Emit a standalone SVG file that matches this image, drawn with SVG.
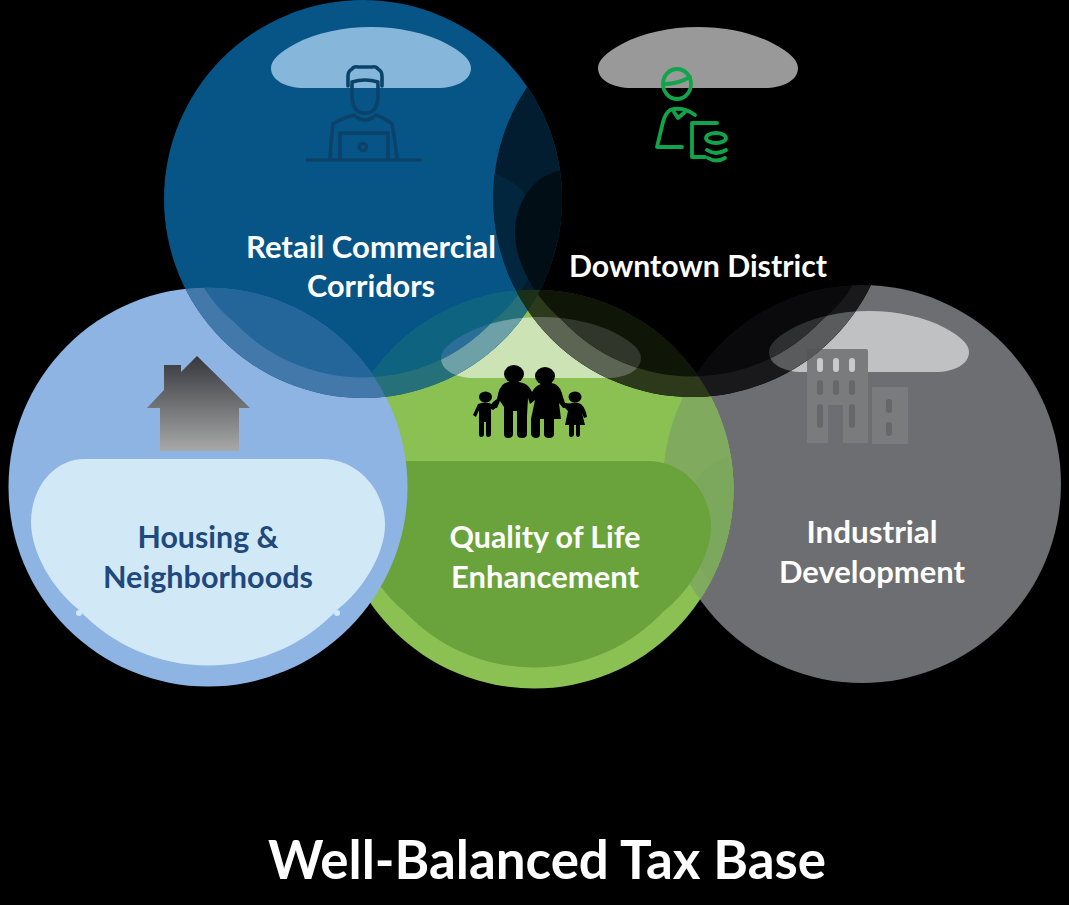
<svg xmlns="http://www.w3.org/2000/svg" xmlns:xlink="http://www.w3.org/1999/xlink" width="1069" height="905" viewBox="0 0 1069 905">
<style>
text{font-family:Lato,"Liberation Sans",sans-serif;font-weight:700;font-size:30px;fill:#fff;text-anchor:middle}
.dk{fill:#1f497d}
.ttl{font-size:53px}
.ln{fill:none;stroke:#0b4269;stroke-width:3.600;stroke-linecap:round;stroke-linejoin:round}
.gn{fill:none;stroke:#10a54a;stroke-width:3.800;stroke-linecap:round;stroke-linejoin:round}
</style>
<defs>
<path id="cap" d="M305 88C285 88 271 80 271 68C271 60 280 52 295 44C315 33 343 27 371 27C399 27 427 33 447 44C462 52 471 60 471 68C471 80 457 88 437 88Z"/>
<path id="bot" d="M85 459H322C358 459 385 490 385 525C385 552 365 588 338 609A178 178 0 0 1 78 609C52 588 31 552 31 522C31 490 52 459 85 459Z"/>
<circle id="cB" cx="363" cy="199" r="199"/>
<circle id="cK" cx="692" cy="198" r="199"/>
<circle id="cL" cx="208" cy="487" r="199.5"/>
<circle id="cG" cx="534" cy="489" r="199.5"/>
<circle id="cY" cx="862" cy="484" r="199"/>
<clipPath id="pB"><use xlink:href="#cB"/></clipPath>
<clipPath id="pK"><use xlink:href="#cK"/></clipPath>
<clipPath id="pL"><use xlink:href="#cL"/></clipPath>
<clipPath id="pG"><use xlink:href="#cG"/></clipPath>
<clipPath id="pY"><use xlink:href="#cY"/></clipPath>
<clipPath id="pBb"><use xlink:href="#bot" transform="translate(155 -288)"/></clipPath>
<clipPath id="pKb"><use xlink:href="#bot" transform="translate(484 -289)"/></clipPath>
<linearGradient id="hg" x1="0" y1="0" x2="0" y2="1"><stop offset="0" stop-color="#35373b"/><stop offset="1" stop-color="#a8a8a8"/></linearGradient>
<path id="bld" d="M809 349H866Q868 349 868 351V443H843V405H828V443H807V351Q807 349 809 349ZM872 387H908V444H872Z"/>
</defs>
<rect width="1069" height="905" fill="#000"/>

<g id="node-industrial">
<use xlink:href="#cY" fill="#6d6e71"/>
<use xlink:href="#cap" transform="translate(498 284)" fill="#c0c1c3"/>
<use xlink:href="#bld" fill="#7a7b7d"/>
<g fill="#c9cacc">
<rect x="817" y="358" width="6" height="14" rx="3"/><rect x="833" y="358" width="6" height="14" rx="3"/><rect x="849" y="358" width="6" height="14" rx="3"/>
</g>
<g fill="#676769">
<rect x="817" y="380" width="6" height="15" rx="3"/><rect x="833" y="380" width="6" height="15" rx="3"/><rect x="849" y="380" width="6" height="15" rx="3"/>
<rect x="817" y="404" width="6" height="24" rx="3"/><rect x="849" y="404" width="6" height="24" rx="3"/>
<rect x="886" y="399" width="6" height="14" rx="3"/><rect x="886" y="422" width="6" height="14" rx="3"/>
</g>
<text x="872" y="543" textLength="131" lengthAdjust="spacingAndGlyphs">Industrial</text>
<text x="872" y="583" textLength="186" lengthAdjust="spacingAndGlyphs">Development</text>
</g>

<g id="node-quality">
<use xlink:href="#cG" fill="#8bc153"/>
<use xlink:href="#cap" transform="translate(170 290)" fill="#cbe3b5"/>
<g clip-path="url(#pY)">
<use xlink:href="#cG" fill="#80aa5e"/>
<g clip-path="url(#pG)"><use xlink:href="#bot" transform="translate(654 -3)" fill="#7ca85d"/></g>
</g>
<use xlink:href="#bot" transform="translate(326 2)" fill="#6aa33c"/>
<g fill="#000">
<ellipse cx="514" cy="374" rx="10" ry="9"/><ellipse cx="545" cy="376" rx="10" ry="9"/>
<ellipse cx="485.500" cy="397" rx="6.500" ry="5.500"/><ellipse cx="575" cy="397" rx="6.500" ry="5.500"/>
<path d="M505 383Q514 380 523 383Q529 385 532 392Q535 386 541 384Q548 381 555 384Q561 387 563 397L565 403L575 404L575 407L563 408L559 403L561 419H554V434Q554 438 549 438Q544 438 544 434V419H540V434Q540 438 536 438Q532 438 531 434V419L531 419L535 400L530 404L528 398L527 416V434Q527 438 522 438Q517 438 517 434V411H513V434Q513 438 508 438Q504 438 504 434V407L500 401L497 408L491 405L493 402L497 399Q499 386 505 383Z"/>
<path d="M478 404Q485 401 492 404L497 407L493 410L491 409V434Q491 437 488 437Q486 437 486 434V422H484V434Q484 437 481 437Q479 437 479 434V410L476 417L473 415Z"/>
<path d="M569 404Q575 401 581 404Q586 409 587 417L584 418L582 413L585 425H580V434Q580 437 578 437Q576 437 576 434V425H574V434Q574 437 571 437Q569 437 569 434V425H565L568 411L565 408Z"/>
</g>
<text x="545" y="548" textLength="191" lengthAdjust="spacingAndGlyphs">Quality of Life</text>
<text x="545" y="588" textLength="188" lengthAdjust="spacingAndGlyphs">Enhancement</text>
</g>

<g id="node-housing">
<use xlink:href="#cL" fill="#8eb4e3"/>
<use xlink:href="#bot" fill="#d1e9f7"/>
<circle cx="79" cy="613" r="3" fill="#d1e9f7"/><circle cx="337" cy="613" r="3" fill="#d1e9f7"/>
<path d="M197 356L250 408H239V451H160V408H147L164 390V365H181V372Z" fill="url(#hg)"/>
<text class="dk" x="208" y="548" textLength="141" lengthAdjust="spacingAndGlyphs">Housing &amp;</text>
<text class="dk" x="208" y="588" textLength="210" lengthAdjust="spacingAndGlyphs">Neighborhoods</text>
</g>

<g id="node-downtown">
<use xlink:href="#cK" fill="#000"/>
<use xlink:href="#cap" transform="translate(327 0)" fill="#999"/>
<ellipse class="gn" cx="677" cy="84" rx="14" ry="15"/>
<path class="gn" d="M665 84Q678 84 690 77M670 110Q665 114 663 122L657 147H682M670 110Q683 106 695 115M674 112L678 118L685 112M717 123H692V157H705"/>
<ellipse class="gn" cx="716" cy="138" rx="10" ry="5"/>
<path class="gn" d="M707 150Q716 156 726 150M708 158Q716 163 725 158"/>
<g clip-path="url(#pK)">
<g clip-path="url(#pY)">
<use xlink:href="#cY" fill="#19191b"/>
<use xlink:href="#cap" transform="translate(498 284)" fill="#5a5b5d"/>
<use xlink:href="#bld" fill="#555658"/>
<g clip-path="url(#pKb)">
<use xlink:href="#cY" fill="#0a0a0c"/>
<use xlink:href="#cap" transform="translate(498 284)" fill="#2e2f31"/>
</g>
</g>
<g clip-path="url(#pG)">
<use xlink:href="#cG" fill="#2c3a1b"/>
<use xlink:href="#cap" transform="translate(170 290)" fill="#5c6554"/>
<g clip-path="url(#pKb)">
<use xlink:href="#cG" fill="#0f1608"/>
<use xlink:href="#cap" transform="translate(170 290)" fill="#30372a"/>
</g>
</g>
</g>
<text x="698" y="277" textLength="258" lengthAdjust="spacingAndGlyphs">Downtown District</text>
</g>

<g id="node-retail">
<use xlink:href="#cB" fill="#075587"/>
<use xlink:href="#cap" fill="#86b6d9"/>
<path class="ln" d="M348 86V76Q348 71 352 69Q354 66 358 67H372Q376 66 378 69Q382 71 382 76V86M352 82Q365 78 378 82M352 84V95Q352 113 365 113Q378 113 378 95V84M333 124Q340 119 354 115Q365 125 376 115Q386 119 392 124Q395 140 397 158M333 124Q331 140 330 158M340 158V133H388V158M307 160H420"/>
<circle class="ln" cx="363" cy="147" r="3.500"/>
<g clip-path="url(#pB)">
<g clip-path="url(#pG)">
<use xlink:href="#cG" fill="#26707a"/>
<use xlink:href="#cap" transform="translate(170 290)" fill="#6ea0a8"/>
<g clip-path="url(#pBb)">
<use xlink:href="#cG" fill="#0e6380"/>
<use xlink:href="#cap" transform="translate(170 290)" fill="#2b6f98"/>
</g>
</g>
<g clip-path="url(#pL)">
<use xlink:href="#cL" fill="#4279aa"/>
<g clip-path="url(#pBb)"><use xlink:href="#cL" fill="#24669a"/></g>
</g>
<g clip-path="url(#pK)">
<use xlink:href="#cK" fill="#021d30"/>
<g clip-path="url(#pBb)"><use xlink:href="#cK" fill="#03263f"/></g>
<g clip-path="url(#pKb)"><use xlink:href="#cK" fill="#020e16"/></g>
<g clip-path="url(#pG)"><use xlink:href="#cG" fill="#1a3018"/></g>
</g>
</g>
<text x="371" y="258" textLength="250" lengthAdjust="spacingAndGlyphs">Retail Commercial</text>
<text x="371" y="297" textLength="128" lengthAdjust="spacingAndGlyphs">Corridors</text>
</g>

<g id="title"><text class="ttl" x="547" y="879" textLength="558" lengthAdjust="spacingAndGlyphs">Well-Balanced Tax Base</text></g>
</svg>
